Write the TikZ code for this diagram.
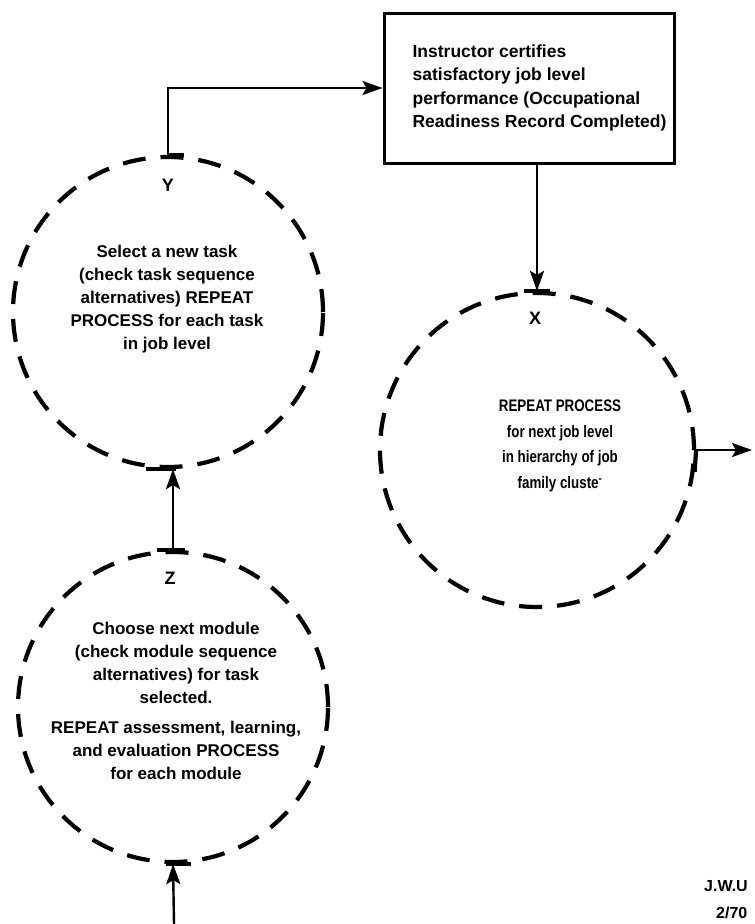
\documentclass[tikz,border=0pt]{standalone}
\usepackage{fontspec}
\setmainfont{Liberation Sans}
\newfontfamily\narrowsans[FakeStretch=0.8]{Liberation Sans}
\usetikzlibrary{arrows.meta,positioning}
\tikzset{certbox/.style={draw,rectangle,line width=3pt,
                         minimum width=290pt,minimum height=150pt,inner sep=0pt,
                         font=\fontsize{17.5}{23.5}\selectfont\bfseries}}
\tikzset{stage/.style={draw,circle,line width=4.2pt,dash pattern=on 23pt off 15pt,
                       minimum size=310pt,inner sep=0pt}}
\tikzset{letter/.style={font=\fontsize{18}{18}\selectfont\bfseries}}
\tikzset{notes/.style={align=center,font=\fontsize{17}{23}\selectfont\bfseries}}
\tikzset{stamp/.style={anchor=west,inner sep=0pt,font=\fontsize{16}{16}\selectfont\bfseries}}
\tikzset{flow/.style={-{Stealth[length=20pt,width=14pt,inset=4pt]},line width=2.4pt}}
\tikzset{tick/.style={line width=4.2pt}}

\begin{document}
\begin{tikzpicture}[x=1pt,y=-1pt]
    \useasboundingbox (0,0) rectangle (755,924);
    % Draw certification box
    \node[certbox] (cert) at (529,88) {\begin{tabular}{@{\hspace{21pt}}l@{}}
        Instructor certifies\\ satisfactory job level\\
        performance (Occupational\\ Readiness Record Completed)\end{tabular}};
    % Draw dashed stage circles
    \node[stage] (ycirc) at (168,312) {};
    \node[stage,minimum size=314pt] (xcirc) at (537,450) {};
    \node[stage] (zcirc) at (173,707) {};
    % Letters at top of circles
    \node[letter] (ytag) at (168,185) {Y};
    \node[letter] (xtag) at (535,318) {X};
    \node[letter] (ztag) at (170,578) {Z};
    % Text in circles
    \node[notes] (ytext) at (167,299) {Select a new task\\(check task sequence\\
        alternatives) REPEAT\\PROCESS for each task\\in job level};
    \node[notes,font=\narrowsans\fontsize{16.7}{25.7}\selectfont\bfseries] (xtext)
        at (560,446) {REPEAT PROCESS\\for next job level\\in hierarchy of job\\
        family cluste\textsuperscript{-}};
    \node[notes] (ztext) at (176,701) {Choose next module\\(check module sequence\\
        alternatives) for task\\selected.\\[7pt]REPEAT assessment, learning,\\
        and evaluation PROCESS\\for each module};
    % Free ends
    \coordinate (exit) at (752,450);
    \coordinate (entry) at (174,924);
    % Connectors
    \draw[flow] (ycirc.north) |- (cert.west);
    \draw[flow] (cert.south -| xcirc.north) -- (xcirc.north);
    \draw[flow] (xcirc.east) -- (exit);
    \draw[flow] (zcirc.north) -- (zcirc.north |- ycirc.south);
    \draw[flow] (entry) -- (zcirc.south);
    % Solid bits where connectors meet circles
    \draw[tick] (ycirc.north) -- ([xshift=16pt]ycirc.north);
    \draw[tick] ([xshift=-13pt]xcirc.north) -- ([xshift=13pt]xcirc.north);
    \draw[tick] (xcirc.east) -- ([xshift=-1.5pt,yshift=-22pt]xcirc.east);
    \draw[tick] ([xshift=-22pt]ycirc.south) -- ([xshift=8pt]ycirc.south);
    \draw[tick] ([xshift=-16pt]zcirc.north) -- ([xshift=12pt]zcirc.north);
    \draw[tick] ([xshift=-7pt]zcirc.south) -- ([xshift=18pt]zcirc.south);
    % Initials and date
    \node[stamp] (initials) at (704,886) {J.W.U};
    \node[stamp] (date) at (716,913) {2/70};
\end{tikzpicture}
\end{document}
